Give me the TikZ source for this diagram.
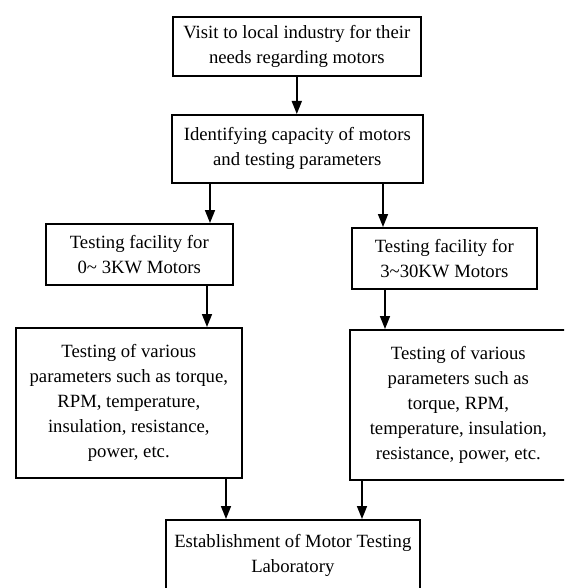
\documentclass[tikz,border=0pt]{standalone}
\usepackage{fontspec}
\setmainfont{Liberation Serif}
\usetikzlibrary{arrows.meta}
\begin{document}
\begin{tikzpicture}[x=1pt,y=-1pt,
  stepbox/.style={draw=black, line width=1.6pt, inner sep=0pt, align=center,
    anchor=north west, font=\fontsize{18.7}{25}\selectfont, text=black},
  arr/.style={line width=1.6pt, -{Triangle[length=13pt,width=10pt]}}]
\useasboundingbox (0,0) rectangle (564,588);
\clip (0,0) rectangle (564,588);

% process steps
\node[stepbox, minimum width=248pt, minimum height=59pt] (b1) at (172,16)
  {Visit to local industry for their\\needs regarding motors};
\node[stepbox, minimum width=251pt, minimum height=68pt] (b2) at (171,114)
  {Identifying capacity of motors\\and testing parameters};
\node[stepbox, minimum width=187pt, minimum height=61pt] (b3) at (45,223)
  {Testing facility for\\0\textasciitilde{} 3KW Motors};
\node[stepbox, minimum width=185pt, minimum height=61pt] (b4) at (351,227)
  {Testing facility for\\3\textasciitilde 30KW Motors};
\node[stepbox, minimum width=226pt, minimum height=150pt] (b5) at (15,327)
  {Testing of various\\parameters such as torque,\\RPM, temperature,\\insulation, resistance,\\power, etc.};
\node[stepbox, minimum width=217pt, minimum height=150pt] (b6) at (349,329)
  {Testing of various\\parameters such as\\torque, RPM,\\temperature, insulation,\\resistance, power, etc.};
\node[stepbox, minimum width=254pt, minimum height=72pt] (b7) at (165,519)
  {Establishment of Motor Testing\\Laboratory};

% x positions of the connectors
\coordinate (x23) at (210,0);
\coordinate (x24) at (383,0);
\coordinate (x35) at (207,0);
\coordinate (x46) at (385,0);
\coordinate (x57) at (226,0);
\coordinate (x67) at (362,0);

\draw[arr] (b1.south) -- (b1.south |- b2.north);
\draw[arr] (b2.south -| x23) -- (b3.north -| x23);
\draw[arr] (b2.south -| x24) -- (b4.north -| x24);
\draw[arr] (b3.south -| x35) -- (b5.north -| x35);
\draw[arr] (b4.south -| x46) -- (b6.north -| x46);
\draw[arr] (b5.south -| x57) -- (b7.north -| x57);
\draw[arr] (b6.south -| x67) -- (b7.north -| x67);
\end{tikzpicture}
\end{document}
